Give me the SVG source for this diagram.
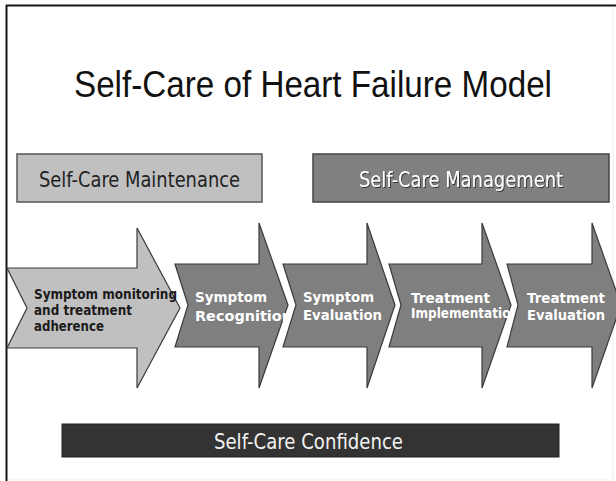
<svg xmlns="http://www.w3.org/2000/svg" width="616" height="481" viewBox="0 0 616 481">
<style>
.t{font-family:"DejaVu Sans","Liberation Sans",sans-serif}
.box{font-size:22px}
.arr{stroke:#3a3a3a;stroke-width:1.2;stroke-linejoin:miter}
.light{fill:#c0c0c0}
.mid{fill:#7f7f7f}
.bt{font-family:"DejaVu Sans","Liberation Sans",sans-serif;font-weight:bold;font-size:13.5px}
.w{fill:#ffffff}
.d{fill:#1a1a1a}
</style>
<defs>
<filter id="sh" x="-5%" y="-20%" width="110%" height="140%">
<feDropShadow dx="1" dy="1" stdDeviation="0.4" flood-color="#000" flood-opacity="0.6"/>
</filter>
</defs>
<rect width="616" height="481" fill="#ffffff"/>
<g id="frame">
<line x1="613" y1="5" x2="613" y2="481" stroke="#ececec" stroke-width="1"/>
<line x1="6" y1="480" x2="613" y2="480" stroke="#f0f0f0" stroke-width="1"/>
<line x1="6" y1="5.5" x2="616" y2="5.5" stroke="#151515" stroke-width="2"/>
<line x1="6.5" y1="5" x2="6.5" y2="481" stroke="#151515" stroke-width="2"/>
</g>
<g id="title">
<text x="74" y="97" font-family="'Liberation Sans',Arial,sans-serif" font-size="37" textLength="478" lengthAdjust="spacingAndGlyphs" fill="#111">Self-Care of Heart Failure Model</text>
</g>
<g id="maintenance">
<rect x="17" y="154" width="245" height="48" fill="#c0c0c0" stroke="#555" stroke-width="1.5"/>
<text class="t box" x="39" y="187" textLength="201" lengthAdjust="spacingAndGlyphs" fill="#222">Self-Care Maintenance</text>
</g>
<g id="management">
<rect x="313" y="154" width="296" height="48" fill="#808080" stroke="#444" stroke-width="1.5"/>
<text class="t box" x="359" y="187" textLength="204" lengthAdjust="spacingAndGlyphs" fill="#ffffff" filter="url(#sh)">Self-Care Management</text>
</g>
<g id="arrow1">
<polygon class="arr light" points="7,268 137,268 137,228 180,308 137,388 137,348 7,348 27,308"/>
<text class="bt d" x="34" y="299" textLength="143" lengthAdjust="spacingAndGlyphs">Symptom monitoring</text>
<text class="bt d" x="34" y="315" textLength="98" lengthAdjust="spacingAndGlyphs">and treatment</text>
<text class="bt d" x="34" y="331" textLength="70" lengthAdjust="spacingAndGlyphs">adherence</text>
</g>
<g id="arrow2">
<polygon class="arr mid" points="175,264 259,264 259,223 288,305 259,388 259,347 175,347 188,305"/>
<text class="bt w" x="195" y="302" font-size="14" textLength="72" lengthAdjust="spacingAndGlyphs">Symptom</text>
<text class="bt w" x="195" y="321" font-size="14" textLength="97" lengthAdjust="spacingAndGlyphs">Recognition</text>
</g>
<g id="arrow3">
<polygon class="arr mid" points="283,264 367,264 367,223 395,305 367,388 367,347 283,347 296,305"/>
<text class="bt w" x="303" y="302" font-size="14" textLength="71" lengthAdjust="spacingAndGlyphs">Symptom</text>
<text class="bt w" x="303" y="320" font-size="14" textLength="79" lengthAdjust="spacingAndGlyphs">Evaluation</text>
</g>
<g id="arrow4">
<polygon class="arr mid" points="389,264 482,264 482,223 511,305 482,388 482,347 389,347 401,305"/>
<text class="bt w" x="411" y="303" font-size="14" textLength="79" lengthAdjust="spacingAndGlyphs">Treatment</text>
<text class="bt w" x="411" y="318" font-size="12" textLength="108" lengthAdjust="spacingAndGlyphs">Implementation</text>
</g>
<g id="arrow5">
<polygon class="arr mid" points="507,264 592,264 592,223 621,305 592,388 592,347 507,347 518,305"/>
<text class="bt w" x="527" y="303" font-size="14" textLength="78" lengthAdjust="spacingAndGlyphs">Treatment</text>
<text class="bt w" x="527" y="320" font-size="14" textLength="78" lengthAdjust="spacingAndGlyphs">Evaluation</text>
</g>
<g id="confidence">
<rect x="62" y="424" width="497" height="33" fill="#333333" stroke="#222" stroke-width="1"/>
<text class="t box" x="214" y="448.5" textLength="189" lengthAdjust="spacingAndGlyphs" fill="#f2f2f2">Self-Care Confidence</text>
</g>
<g id="connectors"></g>
</svg>
